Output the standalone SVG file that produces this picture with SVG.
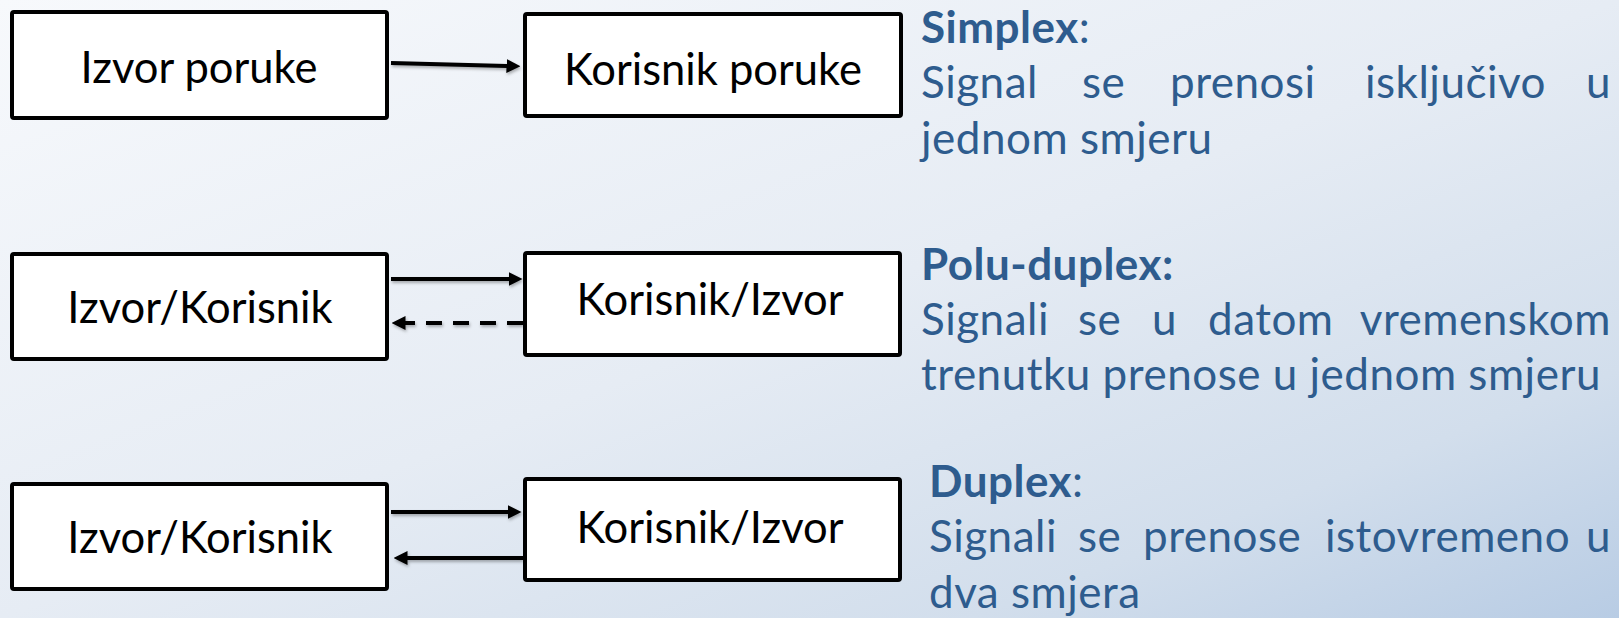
<svg xmlns="http://www.w3.org/2000/svg" width="1619" height="618" viewBox="0 0 1619 618">
  <defs>
    <linearGradient id="bg" x1="0" y1="0" x2="1" y2="1">
      <stop offset="0" stop-color="#F7F9FC"/>
      <stop offset="0.5" stop-color="#E6ECF4"/>
      <stop offset="0.8" stop-color="#D2DEEC"/>
      <stop offset="1" stop-color="#B8CCE4"/>
    </linearGradient>
    <marker id="head" viewBox="0 0 14 14" refX="0.5" refY="7" markerWidth="14" markerHeight="14" markerUnits="userSpaceOnUse" orient="auto">
      <path d="M0,0 L14,7 L0,14 z" fill="#000"/>
    </marker>
    <filter id="soft" x="-10%" y="-50%" width="120%" height="200%">
      <feDropShadow dx="1" dy="2" stdDeviation="1.5" flood-color="#000" flood-opacity="0.3"/>
    </filter>
  </defs>
  <style>
    .box { fill: #FFFFFF; stroke: #000000; stroke-width: 4; }
    .lbl { font-family: Lato, "Open Sans", "Liberation Sans", sans-serif; font-size: 43.5px; fill: #000000; text-anchor: middle; }
    .conn { stroke: #000000; stroke-width: 4; fill: none; marker-end: url(#head); }
    .dash { stroke-dasharray: 16 11; }
    .desc { font-family: Lato, "Open Sans", "Liberation Sans", sans-serif; font-size: 44px; letter-spacing: 0.5px; fill: #2E5C8E; }
    .ttl { font-weight: 700; }
    .last { text-anchor: end; }
  </style>

  <rect x="0" y="0" width="1619" height="618" fill="url(#bg)"/>

  <!-- connectors -->
  <g id="connectors" filter="url(#soft)">
    <line class="conn" x1="391" y1="63" x2="507" y2="66"/>
    <line class="conn" x1="391" y1="279" x2="509" y2="279"/>
    <line class="conn dash" x1="523" y1="323" x2="405" y2="323"/>
    <line class="conn" x1="391" y1="512" x2="508" y2="512"/>
    <line class="conn" x1="523" y1="558" x2="407" y2="558"/>
  </g>

  <!-- simplex row -->
  <g id="simplex-source">
    <rect class="box" x="12" y="12" width="375" height="106" rx="2"/>
    <text class="lbl" x="199" y="83">Izvor poruke</text>
  </g>
  <g id="simplex-user">
    <rect class="box" x="525" y="14" width="376" height="102" rx="2"/>
    <text class="lbl" x="713" y="85">Korisnik poruke</text>
  </g>

  <!-- half-duplex row -->
  <g id="halfduplex-left">
    <rect class="box" x="12" y="254" width="375" height="105" rx="2"/>
    <text class="lbl" x="200" y="323">Izvor/Korisnik</text>
  </g>
  <g id="halfduplex-right">
    <rect class="box" x="525" y="253" width="375" height="102" rx="2"/>
    <text class="lbl" x="710" y="315">Korisnik/Izvor</text>
  </g>

  <!-- duplex row -->
  <g id="duplex-left">
    <rect class="box" x="12" y="484" width="375" height="105" rx="2"/>
    <text class="lbl" x="200" y="553">Izvor/Korisnik</text>
  </g>
  <g id="duplex-right">
    <rect class="box" x="525" y="479" width="375" height="101" rx="2"/>
    <text class="lbl" x="710" y="543">Korisnik/Izvor</text>
  </g>

  <!-- descriptions (justified lines set word by word) -->
  <g id="simplex-text">
    <text class="desc" x="921" y="43"><tspan class="ttl">Simplex</tspan>:</text>
    <text class="desc" y="98"><tspan x="921">Signal</tspan><tspan x="1082">se</tspan><tspan x="1170">prenosi</tspan><tspan x="1365">isključivo</tspan></text>
    <text class="desc last" x="1611" y="98">u</text>
    <text class="desc" x="921" y="154">jednom smjeru</text>
  </g>
  <g id="halfduplex-text">
    <text class="desc ttl" x="921" y="280">Polu-duplex:</text>
    <text class="desc" y="335"><tspan x="921">Signali</tspan><tspan x="1078">se</tspan><tspan x="1152">u</tspan><tspan x="1208">datom</tspan></text>
    <text class="desc last" x="1611" y="335">vremenskom</text>
    <text class="desc" x="921" y="390">trenutku prenose u jednom smjeru</text>
  </g>
  <g id="duplex-text">
    <text class="desc" x="929" y="497"><tspan class="ttl">Duplex</tspan>:</text>
    <text class="desc" y="552"><tspan x="929">Signali</tspan><tspan x="1078">se</tspan><tspan x="1143">prenose</tspan><tspan x="1325">istovremeno</tspan></text>
    <text class="desc last" x="1611" y="552">u</text>
    <text class="desc" x="929" y="608">dva smjera</text>
  </g>
</svg>
